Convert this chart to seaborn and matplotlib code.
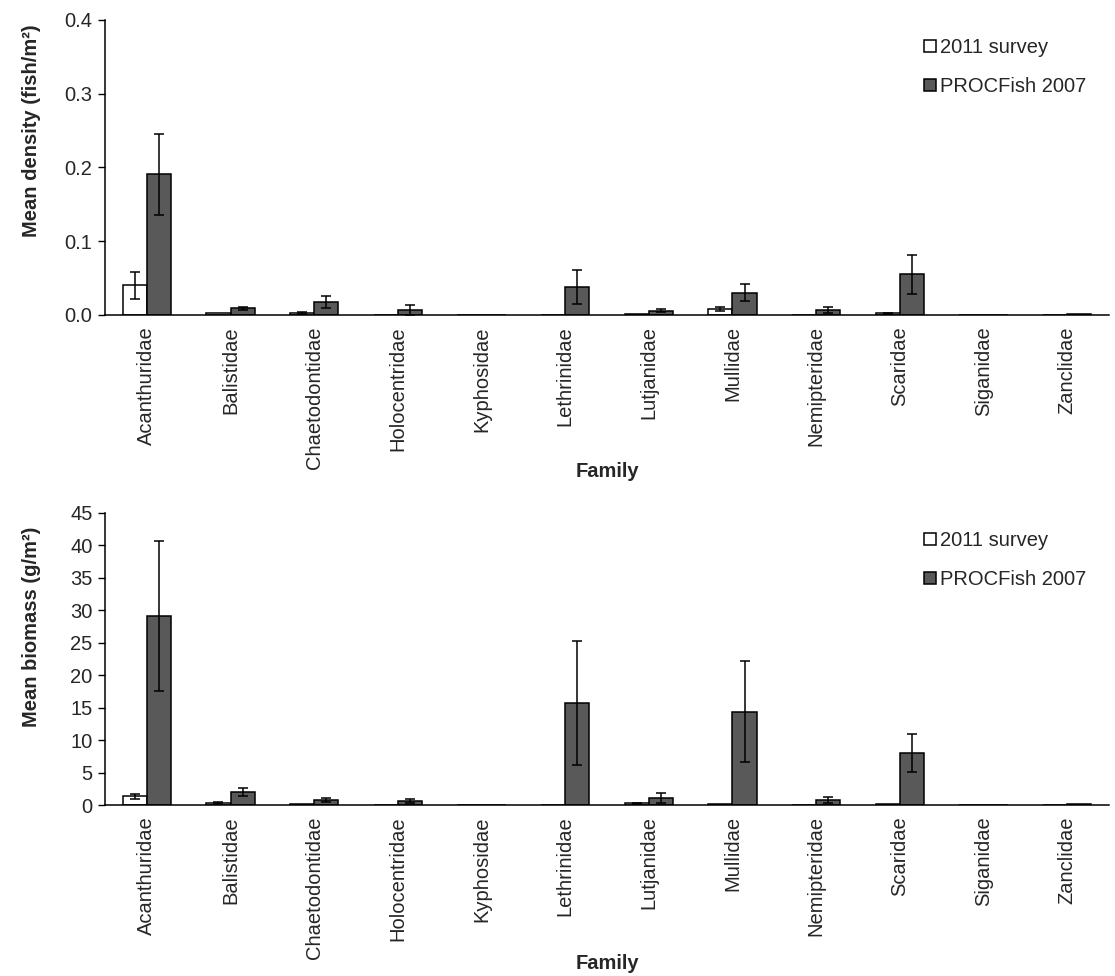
import numpy as np
import pandas as pd
import matplotlib
matplotlib.use("Agg")
import matplotlib.pyplot as plt
import seaborn as sns

families = ["Acanthuridae", "Balistidae", "Chaetodontidae", "Holocentridae", "Kyphosidae",
            "Lethrinidae", "Lutjanidae", "Mullidae", "Nemipteridae", "Scaridae",
            "Siganidae", "Zanclidae"]
series = ["2011 survey", "PROCFish 2007"]

density_2011 = [0.040, 0.003, 0.003, 0.0, 0.0, 0.0, 0.001, 0.008, 0.0, 0.002, 0.0, 0.0]
density_2011_err = [0.018, 0.0, 0.0015, 0.0, 0.0, 0.0, 0.0, 0.003, 0.0, 0.001, 0.0, 0.0]
density_2007 = [0.191, 0.009, 0.018, 0.007, 0.0, 0.038, 0.006, 0.030, 0.007, 0.055, 0.0, 0.001]
density_2007_err = [0.055, 0.002, 0.008, 0.007, 0.0, 0.023, 0.002, 0.0115, 0.004, 0.026, 0.0, 0.0]

biomass_2011 = [1.35, 0.3, 0.15, 0.0, 0.0, 0.0, 0.25, 0.12, 0.0, 0.15, 0.0, 0.0]
biomass_2011_err = [0.4, 0.1, 0.0, 0.0, 0.0, 0.0, 0.1, 0.0, 0.0, 0.0, 0.0, 0.0]
biomass_2007 = [29.1, 1.95, 0.75, 0.6, 0.0, 15.7, 1.05, 14.4, 0.8, 8.0, 0.0, 0.15]
biomass_2007_err = [11.6, 0.6, 0.3, 0.35, 0.0, 9.6, 0.75, 7.8, 0.5, 2.9, 0.0, 0.0]

sns.set_theme(style="white")
plt.rcParams['font.family'] = ['Liberation Sans', 'DejaVu Sans']
FS = 14.5

fig = plt.figure(figsize=(11.15, 9.76), dpi=100)
ax1 = fig.add_axes([0.0942, 0.6773, 0.9004, 0.3023])
ax2 = fig.add_axes([0.0942, 0.1752, 0.9004, 0.2992])


def panel(ax, v11, e11, v07, e07, ylim, yticks, ylabel, fmt, xlab_y, ylab_y):
    df = pd.DataFrame({
        "Family": families * 2,
        "Series": [series[0]] * len(families) + [series[1]] * len(families),
        "Value": list(v11) + list(v07),
    })
    sns.barplot(data=df, x="Family", y="Value", hue="Series", order=families,
                hue_order=series, palette=["white", "#595959"], edgecolor="black",
                linewidth=1.1, width=0.575, errorbar=None, ax=ax, saturation=1)
    for cont, vals, errs in zip(ax.containers, [v11, v07], [e11, e07]):
        for p, v, e in zip(cont.patches, vals, errs):
            if e > 0:
                ax.errorbar(p.get_x() + p.get_width() / 2, v, yerr=e, fmt="none",
                            ecolor="black", elinewidth=1.1, capsize=3.3, capthick=1.1)
    ax.set_xlim(-0.5, len(families) - 0.5)
    ax.set_ylim(*ylim)
    ax.set_yticks(yticks)
    ax.set_yticklabels([fmt.format(t) for t in yticks], fontsize=FS)
    ax.set_xticks(np.arange(len(families)))
    ax.set_xticklabels(families, rotation=90, fontsize=FS)
    ax.set_xticks(np.arange(len(families) + 1) - 0.5, minor=True)
    ax.tick_params(axis="x", which="major", length=0, pad=8)
    ax.tick_params(axis="x", which="minor", length=6, width=1, color="black", direction="out")
    ax.tick_params(axis="y", which="major", length=5, width=1, color="black", direction="out", left=True, pad=4)
    for s in ["top", "right"]:
        ax.spines[s].set_visible(False)
    for s in ["left", "bottom"]:
        ax.spines[s].set_color("black")
        ax.spines[s].set_linewidth(1.1)
    ax.set_xlabel("Family", fontsize=FS, fontweight="bold")
    ax.xaxis.set_label_coords(0.5, xlab_y)
    ax.set_ylabel(ylabel, fontsize=FS, fontweight="bold")
    ax.yaxis.set_label_coords(-0.064, ylab_y)
    ax.legend(loc="upper right", bbox_to_anchor=(0.995, 1.0), frameon=False,
              fontsize=FS, handlelength=0.55, handleheight=0.55, handletextpad=0.2,
              labelspacing=1.0)
    ax.grid(False)


panel(ax1, density_2011, density_2011_err, density_2007, density_2007_err,
      (0, 0.4), [0.0, 0.1, 0.2, 0.3, 0.4], "Mean density (fish/m²)", "{:.1f}", -0.498, 0.625)
panel(ax2, biomass_2011, biomass_2011_err, biomass_2007, biomass_2007_err,
      (0, 45), list(range(0, 50, 5)), "Mean biomass (g/m²)", "{:.0f}", -0.51, 0.61)

fig.savefig("out.png", dpi=100)
